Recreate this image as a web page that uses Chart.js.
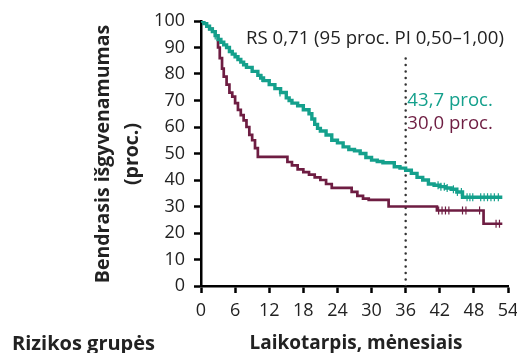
<!DOCTYPE html>
<html>
<head>
<meta charset="utf-8">
<script src="https://cdn.jsdelivr.net/npm/chart.js@4.4.1/dist/chart.umd.min.js"></script>
<style>
  html, body { margin: 0; padding: 0; background: #fff; }
  #wrap { width: 517px; height: 353px; }
</style>
</head>
<body>
<div id="wrap"><canvas id="km"></canvas></div>
<script>
// Kaplan-Meier curves (months, % alive)
const tealMonths = [0, 0.5, 1, 1.5, 2, 2.5, 3, 3.5, 4, 4.5, 5, 5.5, 6, 6.5, 7, 7.5, 8, 9, 10, 10.5, 11, 12, 13, 14, 15, 15.5, 16, 17, 18, 19, 19.5, 20, 20.5, 21, 22, 23, 24, 25, 26, 27, 28, 29, 30, 31, 32, 34, 35, 36, 37, 38, 39, 40, 41, 42, 43, 44, 45, 46, 53];
const tealValues = [100, 99, 98, 97, 96, 94.5, 93, 92, 91, 90, 88.5, 87.5, 86.5, 85.5, 84.5, 83.5, 82.5, 81, 79.5, 78.5, 77.5, 76, 74.5, 73, 71, 70, 69, 68, 66.5, 65, 63, 61, 59.5, 58.5, 57, 55, 54, 52.5, 51.5, 51, 50, 48.5, 47.5, 47, 46.5, 45, 44.5, 43.7, 42.5, 41, 40, 38.5, 38, 37.5, 37, 36.5, 35.5, 33.5, 33.5];

const maroonMonths = [0, 0.5, 1, 1.5, 2, 2.5, 3, 3.3, 3.7, 4, 4.5, 5, 5.5, 6, 6.5, 7, 7.5, 8, 8.5, 9, 9.5, 10, 15.2, 16, 17, 18, 19, 20, 21, 22, 23, 26.5, 27.5, 28.5, 29.5, 33, 41.5, 49.7, 53];
const maroonValues = [100, 99, 98, 97, 96, 94.5, 90, 86, 82, 79, 76, 73, 71.5, 69, 66.5, 64.5, 62.5, 60, 57, 55, 52, 48.7, 46.8, 45.5, 44, 43, 42, 41, 40, 38.5, 37, 35.5, 34, 33, 32.5, 30, 28.5, 23.5, 23.5];

// censored observations
const tealCensorMonths = [2.5, 10.7, 13.9, 41.7, 42.2, 42.8, 43.3, 44.4, 45.1, 45.8, 46.8, 47.3, 47.8, 49.2, 49.8, 50.4, 51, 51.6, 52.3];
const tealCensorValues = [94.5, 78.5, 73, 38, 37.5, 37.5, 37, 36.5, 35.5, 35.5, 33.5, 33.5, 33.5, 33.5, 33.5, 33.5, 33.5, 33.5, 33.5];
const maroonCensorMonths = [41.8, 42.4, 43, 43.6, 46, 46.6, 49, 51.9, 52.5];
const maroonCensorValues = [28.5, 28.5, 28.5, 28.5, 28.5, 28.5, 28.5, 23.5, 23.5];

const xTicks = [0, 6, 12, 18, 24, 30, 36, 42, 48, 54];
const yTicks = [0, 10, 20, 30, 40, 50, 60, 70, 80, 90, 100];
const landmarkMonth = 36;
const landmarkTop = 87;

const hrText = 'RS 0,71 (95 proc. PI 0,50–1,00)';
const tealLabel = '43,7 proc.';
const maroonLabel = '30,0 proc.';
const yTitle = ['Bendrasis išgyvenamumas', '(proc.)'];
const xTitle = 'Laikotarpis, mėnesiais';
const riskTitle = 'Rizikos grupės';

const TEAL = '#14a08c';
const MAROON = '#6e1d42';
const FONT = '"Open Sans", "Noto Sans", sans-serif';

const zip = (xs, ys) => xs.map((x, i) => ({ x, y: ys[i] }));

const textPlugin = {
  id: 'texts',
  afterDraw(chart) {
    const { ctx, scales: { x, y } } = chart;
    ctx.save();
    ctx.textBaseline = 'middle';

    ctx.fillStyle = '#222';
    ctx.font = '18.6px ' + FONT;
    ctx.textAlign = 'center';
    ctx.fillText(hrText, x.getPixelForValue(30.6), y.getPixelForValue(93.2));

    ctx.textAlign = 'left';
    ctx.fillStyle = TEAL;
    ctx.fillText(tealLabel, x.getPixelForValue(36.3), y.getPixelForValue(70));
    ctx.fillStyle = MAROON;
    ctx.fillText(maroonLabel, x.getPixelForValue(36.3), y.getPixelForValue(61.4));

    ctx.fillStyle = '#222';
    ctx.font = 'bold 19.5px ' + FONT;
    ctx.save();
    ctx.translate(103, 154);
    ctx.rotate(-Math.PI / 2);
    ctx.textAlign = 'center';
    ctx.fillText(yTitle[0], 0, 0);
    ctx.fillText(yTitle[1], 0, 29);
    ctx.restore();

    ctx.textAlign = 'center';
    ctx.font = 'bold 19px ' + FONT;
    ctx.fillText(xTitle, 356, 344);
    ctx.textAlign = 'left';
    ctx.font = 'bold 20px ' + FONT;
    ctx.fillText(riskTitle, 12, 344);
    ctx.restore();
  }
};

new Chart(document.getElementById('km'), {
  type: 'line',
  data: {
    datasets: [
      {
        data: zip(tealMonths, tealValues),
        borderColor: TEAL,
        borderWidth: 3.4,
        stepped: 'before',
        pointRadius: 0
      },
      {
        data: zip(maroonMonths, maroonValues),
        borderColor: MAROON,
        borderWidth: 2.7,
        stepped: 'before',
        pointRadius: 0
      },
      {
        data: zip(tealCensorMonths, tealCensorValues),
        showLine: false,
        pointStyle: 'line',
        rotation: 90,
        pointRadius: 4,
        pointBorderWidth: 1.2,
        borderColor: TEAL
      },
      {
        data: zip(maroonCensorMonths, maroonCensorValues),
        showLine: false,
        pointStyle: 'line',
        rotation: 90,
        pointRadius: 4,
        pointBorderWidth: 1.2,
        borderColor: MAROON
      },
      {
        data: [{ x: landmarkMonth, y: 0 }, { x: landmarkMonth, y: landmarkTop }],
        borderColor: '#333',
        borderWidth: 2.5,
        borderDash: [0.1, 6.4],
        borderCapStyle: 'round',
        pointRadius: 0
      }
    ]
  },
  options: {
    responsive: true,
    maintainAspectRatio: false,
    animation: false,
    layout: { padding: { left: 0, top: 21, right: 9, bottom: 0 } },
    plugins: { legend: { display: false }, tooltip: { enabled: false } },
    scales: {
      x: {
        type: 'linear',
        min: 0,
        max: 54,
        afterBuildTicks: s => { s.ticks = xTicks.map(v => ({ value: v })); },
        // let the "54" label hang over the right edge like the original
        afterFit: s => { s.height = 67; s.paddingRight = 0; s.paddingLeft = 0; },
        grid: { display: true, drawOnChartArea: false, tickLength: 7, tickWidth: 2.5, tickColor: '#000' },
        border: { color: '#000', width: 2.5 },
        ticks: { color: '#222', font: { family: FONT, size: 18 }, padding: 7, maxRotation: 0 }
      },
      y: {
        min: 0,
        max: 100,
        afterBuildTicks: s => { s.ticks = yTicks.map(v => ({ value: v })); },
        afterFit: s => { s.width = 201; },
        grid: { display: true, drawOnChartArea: false, tickLength: 7, tickWidth: 2.5, tickColor: '#000' },
        border: { color: '#000', width: 2.5 },
        ticks: { color: '#222', font: { family: FONT, size: 18 }, padding: 9 }
      }
    }
  },
  plugins: [textPlugin]
});
</script>
</body>
</html>
